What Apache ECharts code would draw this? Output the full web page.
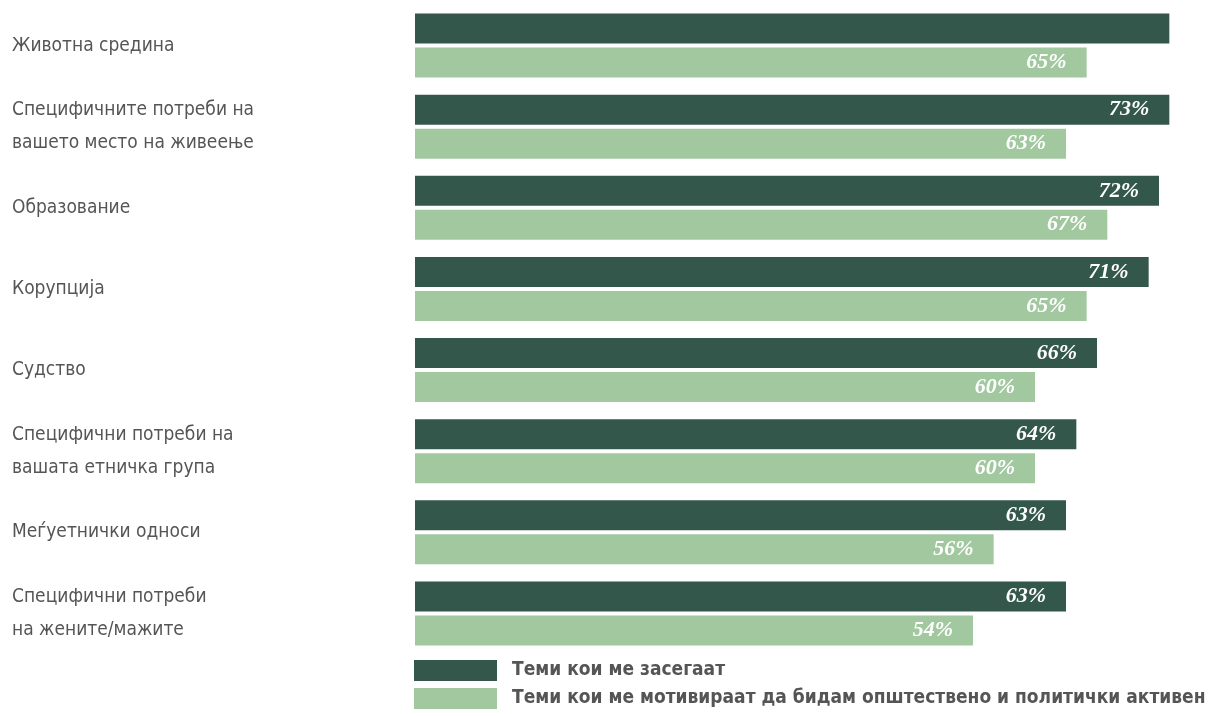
<!DOCTYPE html>
<html><head><meta charset="utf-8">
<script src="https://cdn.jsdelivr.net/npm/echarts@6/dist/echarts.min.js"></script>
<style>html,body{margin:0;padding:0;background:#fff}#c{width:1231px;height:716px}</style>
</head><body><div id="c"></div>
<script>
const categories = [
  'Животна средина',
  'Специфичните потреби на\nвашето место на живеење',
  'Образование',
  'Корупција',
  'Судство',
  'Специфични потреби на\nвашата етничка група',
  'Меѓуетнички односи',
  'Специфични потреби\nна жените/мажите'
];
const seriesNames = ['Теми кои ме засегаат', 'Теми кои ме мотивираат да бидам општествено и политички активен'];
const concernValues = [73, 73, 72, 71, 66, 64, 63, 63];
const motivateValues = [65, 63, 67, 65, 60, 60, 56, 54];
const hiddenLabelIdx = [0]; // the first dark bar shows no label in the reference

const labelStyle = {
  show: true, position: 'insideRight', distance: 20,
  color: '#fff', fontFamily: 'Liberation Serif', fontStyle: 'italic', fontWeight: 'bold', fontSize: 22,
  formatter: p => p.value + '%'
};
const chart = echarts.init(document.getElementById('c'));
chart.setOption({
  animation: false,
  grid: { left: 415, right: 10, top: 5, bottom: 62 },
  xAxis: { type: 'value', min: 0, max: 78, show: false },
  yAxis: {
    type: 'category', data: categories, inverse: true,
    axisLine: { show: false }, axisTick: { show: false },
    axisLabel: { align: 'left', margin: 403, color: '#555', fontFamily: 'DejaVu Sans Condensed', fontSize: 19, lineHeight: 33 }
  },
  legend: {
    orient: 'vertical', left: 414, top: 660, padding: 0, itemWidth: 83, itemHeight: 21, itemGap: 7,
    icon: 'rect',
    textStyle: { color: '#555', fontFamily: 'DejaVu Sans Condensed', fontWeight: 'bold', fontSize: 19, padding: [0, 0, 0, 10] },
    data: seriesNames
  },
  series: [
    {
      name: seriesNames[0], type: 'bar', barWidth: 30, barGap: '13%', barCategoryGap: '20%',
      itemStyle: { color: '#33574a' },
      label: labelStyle,
      data: concernValues.map((v, i) => hiddenLabelIdx.includes(i) ? { value: v, label: { show: false } } : v)
    },
    {
      name: seriesNames[1], type: 'bar', barWidth: 30,
      itemStyle: { color: '#a2c8a0' },
      label: labelStyle,
      data: motivateValues
    }
  ]
});
</script></body></html>
